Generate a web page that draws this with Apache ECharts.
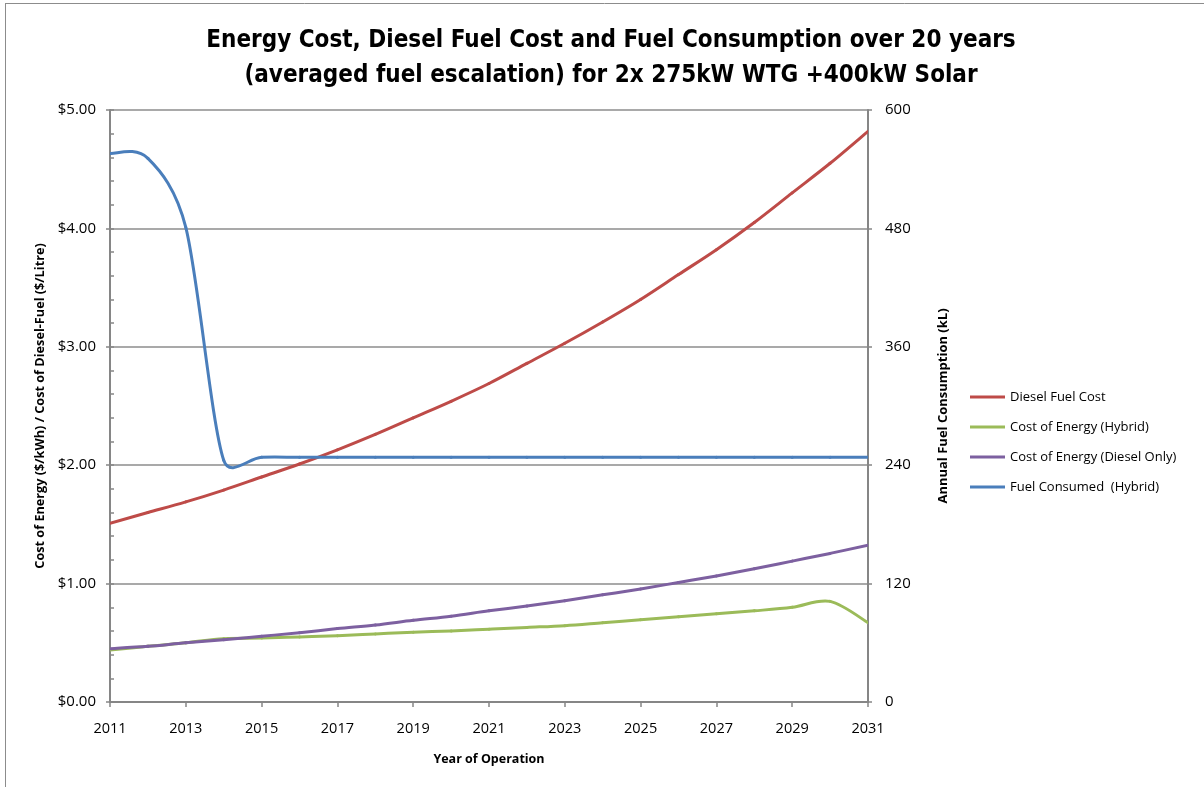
<!DOCTYPE html>
<html>
<head>
<meta charset="utf-8">
<title>Energy Cost, Diesel Fuel Cost and Fuel Consumption</title>
<script src="https://cdn.jsdelivr.net/npm/echarts@6/dist/echarts.min.js"></script>
<style>
  html, body { margin: 0; padding: 0; background: #fff; }
  #chart { width: 1204px; height: 787px; }
</style>
</head>
<body>
<div id="chart"></div>
<script>
// Years of operation (category axis)
const years = ['2011','2012','2013','2014','2015','2016','2017','2018','2019','2020',
               '2021','2022','2023','2024','2025','2026','2027','2028','2029','2030','2031'];

// Diesel fuel price, $/Litre
const dieselFuelCost = [1.51, 1.60, 1.69, 1.79, 1.90, 2.01, 2.13, 2.26, 2.40, 2.54,
                        2.69, 2.86, 3.03, 3.21, 3.40, 3.61, 3.82, 4.05, 4.30, 4.55, 4.82];

// Cost of energy for the wind/solar hybrid system, $/kWh
const costHybrid = [0.44, 0.47, 0.50, 0.535, 0.54, 0.55, 0.56, 0.575, 0.59, 0.60,
                    0.615, 0.63, 0.645, 0.67, 0.695, 0.72, 0.745, 0.77, 0.80, 0.85, 0.67];

// Cost of energy for diesel-only generation, $/kWh
const costDieselOnly = [0.45, 0.47, 0.50, 0.525, 0.555, 0.585, 0.62, 0.65, 0.69, 0.725,
                        0.77, 0.81, 0.855, 0.905, 0.955, 1.01, 1.065, 1.125, 1.19, 1.255, 1.325];

// Annual diesel consumed by the hybrid system, kL
const fuelConsumed = [556, 551, 481, 245, 248, 248, 248, 248, 248, 248,
                      248, 248, 248, 248, 248, 248, 248, 248, 248, 248, 248];

const TITLE_FONT = "'Liberation Sans Narrow', 'DejaVu Sans Condensed', 'Liberation Sans', sans-serif";
const FONT = "'Open Sans', 'Noto Sans', sans-serif";
const AXIS_GREY = '#868686';

const chart = echarts.init(document.getElementById('chart'), null, { renderer: 'canvas' });

// Limit a tangent vector to a given length
function clampLen(v, maxLen) {
  const len = Math.hypot(v[0], v[1]);
  if (len <= maxLen || len === 0) return v;
  const k = maxLen / len;
  return [v[0] * k, v[1] * k];
}

// Smoothed line drawn as cubic Bezier segments (Catmull-Rom style tangents)
function smoothLineSeries(name, values, color, yIndex) {
  const n = values.length;
  return {
    name: name,
    type: 'custom',
    yAxisIndex: yIndex,
    clip: true,
    itemStyle: { color: color },
    data: values.map((v, i) => [i, v]),
    encode: { x: 0, y: 1 },
    renderItem: function (params, api) {
      const i = params.dataIndex;
      if (i >= n - 1) return null;
      const pt = j => {
        const k = Math.min(Math.max(j, 0), n - 1);
        return api.coord([k, values[k]]);
      };
      const pPrev = pt(i - 1), p0 = pt(i), p1 = pt(i + 1), pNext = pt(i + 2);
      const seg = Math.hypot(p1[0] - p0[0], p1[1] - p0[1]);
      const t0 = clampLen([(p1[0] - pPrev[0]) / 6, (p1[1] - pPrev[1]) / 6], seg / 2);
      const t1 = clampLen([(pNext[0] - p0[0]) / 6, (pNext[1] - p0[1]) / 6], seg / 2);
      return {
        type: 'bezierCurve',
        shape: {
          x1: p0[0], y1: p0[1],
          cpx1: p0[0] + t0[0], cpy1: p0[1] + t0[1],
          cpx2: p1[0] - t1[0], cpy2: p1[1] - t1[1],
          x2: p1[0], y2: p1[1]
        },
        style: { stroke: color, lineWidth: 3, fill: null, lineCap: 'round' },
        silent: true
      };
    }
  };
}

chart.setOption({
  animation: false,
  title: {
    text: 'Energy Cost, Diesel Fuel Cost and Fuel Consumption over 20 years\n(averaged fuel escalation) for 2x 275kW WTG +400kW Solar',
    left: 606,
    textAlign: 'center',
    top: 18,
    textStyle: { fontFamily: TITLE_FONT, fontSize: 24, fontWeight: 'bold', color: '#000', lineHeight: 35 }
  },
  legend: {
    orient: 'vertical',
    left: 970,
    top: 388,
    padding: 0,
    icon: 'rect',
    itemWidth: 35,
    itemHeight: 3,
    itemGap: 12,
    textStyle: { fontFamily: FONT, fontSize: 13, color: '#000', lineHeight: 18 },
    data: ['Diesel Fuel Cost', 'Cost of Energy (Hybrid)', 'Cost of Energy (Diesel Only)', 'Fuel Consumed  (Hybrid)']
  },
  grid: { left: 110, right: 336, top: 110, bottom: 85, containLabel: false },
  xAxis: {
    type: 'category',
    data: years,
    boundaryGap: false,
    name: 'Year of Operation',
    nameLocation: 'middle',
    nameGap: 51,
    nameTextStyle: { fontFamily: FONT, fontSize: 12.5, fontWeight: 'bold', color: '#000' },
    axisLine: { lineStyle: { color: AXIS_GREY, width: 2 } },
    axisTick: { interval: 1, length: 5, lineStyle: { color: AXIS_GREY, width: 1.5 } },
    axisLabel: { interval: 1, fontFamily: FONT, fontSize: 14.5, color: '#000', margin: 19 },
    splitLine: { show: false }
  },
  yAxis: [
    {
      type: 'value',
      position: 'left',
      min: 0, max: 5, interval: 1,
      name: 'Cost of Energy ($/kWh) / Cost of Diesel-Fuel ($/Litre)',
      nameLocation: 'middle',
      nameRotate: 90,
      nameGap: 60,
      nameTextStyle: { fontFamily: FONT, fontSize: 12.7, fontWeight: 'bold', color: '#000' },
      axisLine: { show: true, lineStyle: { color: AXIS_GREY, width: 2 } },
      axisTick: { show: true, length: 4, lineStyle: { color: AXIS_GREY, width: 1.5 } },
      axisLabel: { fontFamily: FONT, fontSize: 15, color: '#000', margin: 14, formatter: v => '$' + v.toFixed(2) },
      splitLine: { show: true, lineStyle: { color: '#8c8c8c', width: 1.5 } }
    },
    {
      type: 'value',
      position: 'right',
      min: 0, max: 600, interval: 120,
      name: 'Annual Fuel Consumption (kL)',
      nameLocation: 'middle',
      nameRotate: 90,
      nameGap: 69,
      nameTextStyle: { fontFamily: FONT, fontSize: 13, fontWeight: 'bold', color: '#000' },
      axisLine: { show: true, lineStyle: { color: AXIS_GREY, width: 2 } },
      axisTick: { show: true, length: 4, lineStyle: { color: AXIS_GREY, width: 1.5 } },
      axisLabel: { fontFamily: FONT, fontSize: 15, color: '#000', margin: 17 },
      splitLine: { show: false }
    },
    {
      // inner minor ticks on the cost axis
      type: 'value',
      position: 'left',
      min: 0, max: 5, interval: 0.2,
      axisLine: { show: false },
      axisTick: { show: true, inside: true, length: 4, lineStyle: { color: AXIS_GREY, width: 1.5 } },
      axisLabel: { show: false },
      splitLine: { show: false }
    }
  ],
  graphic: [
    { type: 'line', shape: { x1: 5, y1: 3.5, x2: 1204, y2: 3.5 }, style: { stroke: '#8c8c8c', lineWidth: 1 }, silent: true },
    { type: 'line', shape: { x1: 5.5, y1: 3, x2: 5.5, y2: 787 }, style: { stroke: '#8c8c8c', lineWidth: 1 }, silent: true }
  ],
  series: [
    smoothLineSeries('Diesel Fuel Cost', dieselFuelCost, '#BE4B48', 0),
    smoothLineSeries('Cost of Energy (Hybrid)', costHybrid, '#9BBB59', 0),
    smoothLineSeries('Cost of Energy (Diesel Only)', costDieselOnly, '#7D60A0', 0),
    smoothLineSeries('Fuel Consumed  (Hybrid)', fuelConsumed, '#4A7EBB', 1)
  ]
});
</script>
</body>
</html>
